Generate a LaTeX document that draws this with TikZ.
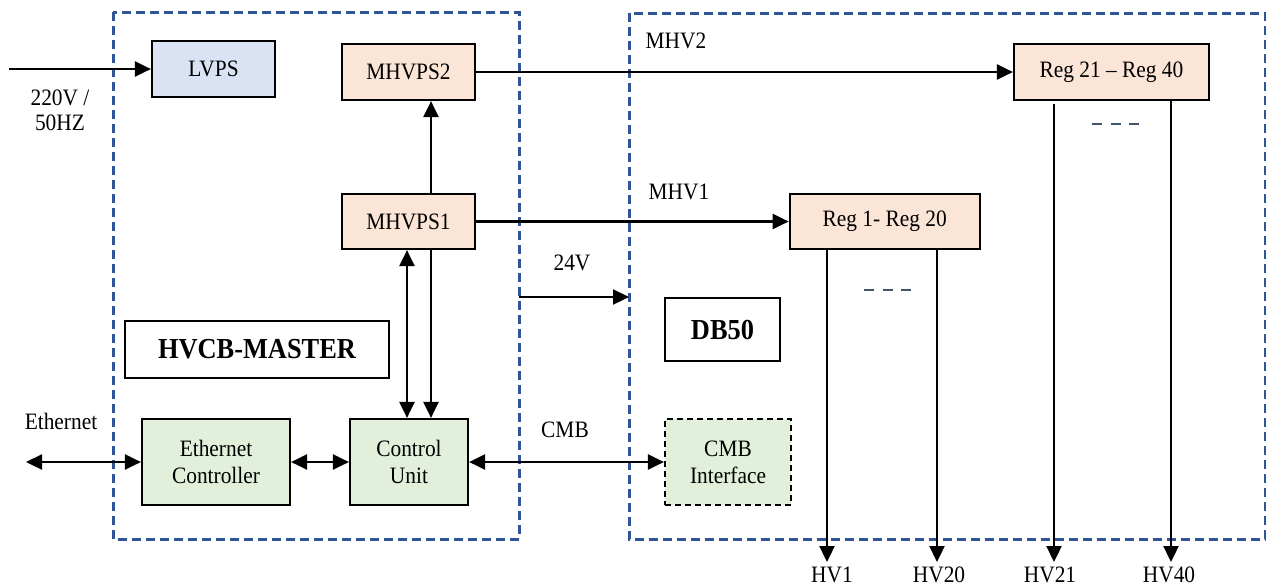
\documentclass[tikz,border=0pt]{standalone}
\usepackage{fontspec}
\setmainfont{Liberation Serif}[FakeStretch=0.91]
\usetikzlibrary{arrows.meta}
\definecolor{frameblue}{HTML}{2F5597}
\definecolor{lvpsblue}{HTML}{DAE3F3}
\definecolor{peach}{HTML}{FBE5D6}
\definecolor{mint}{HTML}{E2EFDA}
\definecolor{slate}{HTML}{44546A}
\begin{document}
\begin{tikzpicture}[x=1pt,y=-1pt,
  font=\fontsize{23.5}{27}\selectfont,
  blk/.style={draw=black, line width=2.2pt, inner sep=0pt, align=center},
  frame/.style={draw=frameblue, line width=3pt, dash pattern=on 9pt off 5pt},
  wire/.style={line width=2.3pt, -{Triangle[length=16pt,width=15pt]}},
  dwire/.style={line width=2.3pt, {Triangle[length=16pt,width=15pt]}-{Triangle[length=16pt,width=15pt]}},
  ellip/.style={draw=slate, line width=2.2pt, dash pattern=on 10pt off 8.5pt},
  lbl/.style={anchor=base, inner sep=0pt}]
\useasboundingbox (0,0) rectangle (1266,587);

% enclosures of the two boards
\draw[frame] (113,12) rectangle (519,539);
\draw[frame] (629,13) rectangle (1265,539);

% HVCB-MASTER blocks
\node[blk, fill=lvpsblue, minimum width=123pt, minimum height=56pt] (lvps) at (213.5,69) {LVPS};
\node[blk, fill=peach, minimum width=133pt, minimum height=56pt] (mh2) at (408.5,72) {MHVPS2};
\node[blk, fill=peach, minimum width=133pt, minimum height=55pt] (mh1) at (408.5,221.5) {MHVPS1};
\node[blk, fill=white, minimum width=264pt, minimum height=57pt, font=\fontsize{29}{32}\selectfont\bfseries] (hvcb) at (257,349.5) {HVCB-MASTER};
\node[blk, fill=mint, minimum width=148pt, minimum height=86pt] (ec) at (216,462) {Ethernet\\Controller};
\node[blk, fill=mint, minimum width=118pt, minimum height=86pt] (cu) at (409,462) {Control\\Unit};

% DB50 blocks
\node[blk, fill=peach, minimum width=195pt, minimum height=56pt] (r21) at (1111.5,72) {Reg 21 – Reg 40};
\node[blk, fill=peach, minimum width=190pt, minimum height=55pt] (r1) at (884.75,221.5) {Reg 1- Reg 20};
\node[blk, fill=white, minimum width=115pt, minimum height=63pt, font=\fontsize{29}{32}\selectfont\bfseries] (db) at (722.5,329.5) {DB50};
\node[blk, fill=mint, minimum width=126pt, minimum height=86pt, dash pattern=on 6pt off 4pt] (cmbi) at (728,462) {CMB\\Interface};

% free ends and wire columns
\coordinate (mains) at (9,69);
\coordinate (net) at (26,462);
\coordinate (p24a) at (519,297);
\coordinate (p24b) at (629,297);
\coordinate (xa) at (407,0);
\coordinate (xb) at (431,0);
\coordinate (hv1) at (827,562);
\coordinate (hv20) at (937,562);
\coordinate (hv21) at (1054,562);
\coordinate (hv40) at (1171,562);

% connectors
\draw[wire] (mains) -- (lvps.west);
\draw[wire] (mh1.north -| xb) -- (mh2.south -| xb);
\draw[dwire] (cu.north -| xa) -- (mh1.south -| xa);
\draw[wire] (mh1.south -| xb) -- (cu.north -| xb);
\draw[wire] (mh2.east) -- (r21.west);
\draw[wire] (mh1.east) -- (r1.west);
\draw[wire] (p24a) -- (p24b);
\draw[dwire] (net) -- (ec.west);
\draw[dwire] (ec.east) -- (cu.west);
\draw[dwire] (cu.east) -- (cmbi.west);
\draw[wire] (r1.south -| hv1) -- (hv1);
\draw[wire] (r1.south -| hv20) -- (hv20);
\draw[wire] ([yshift=-3pt]r21.south -| hv21) -- (hv21);
\draw[wire] (r21.south -| hv40) -- (hv40);

% ellipsis marks between the outputs
\draw[ellip] (864,290) -- (911,290);
\draw[ellip] (1092,124) -- (1139,124);

% labels
\node[lbl] (t220) at (60,105) {220V /};
\node[lbl] (t50) at (60,130) {50HZ};
\node[lbl] (teth) at (61,429) {Ethernet};
\node[lbl] (tmhv2) at (676,48) {MHV2};
\node[lbl] (tmhv1) at (679,199) {MHV1};
\node[lbl] (t24) at (572,270) {24V};
\node[lbl] (tcmb) at (565,437) {CMB};
\node[lbl] (thv1) at (832,582) {HV1};
\node[lbl] (thv20) at (939,582) {HV20};
\node[lbl] (thv21) at (1050,582) {HV21};
\node[lbl] (thv40) at (1169,582) {HV40};
\end{tikzpicture}
\end{document}
